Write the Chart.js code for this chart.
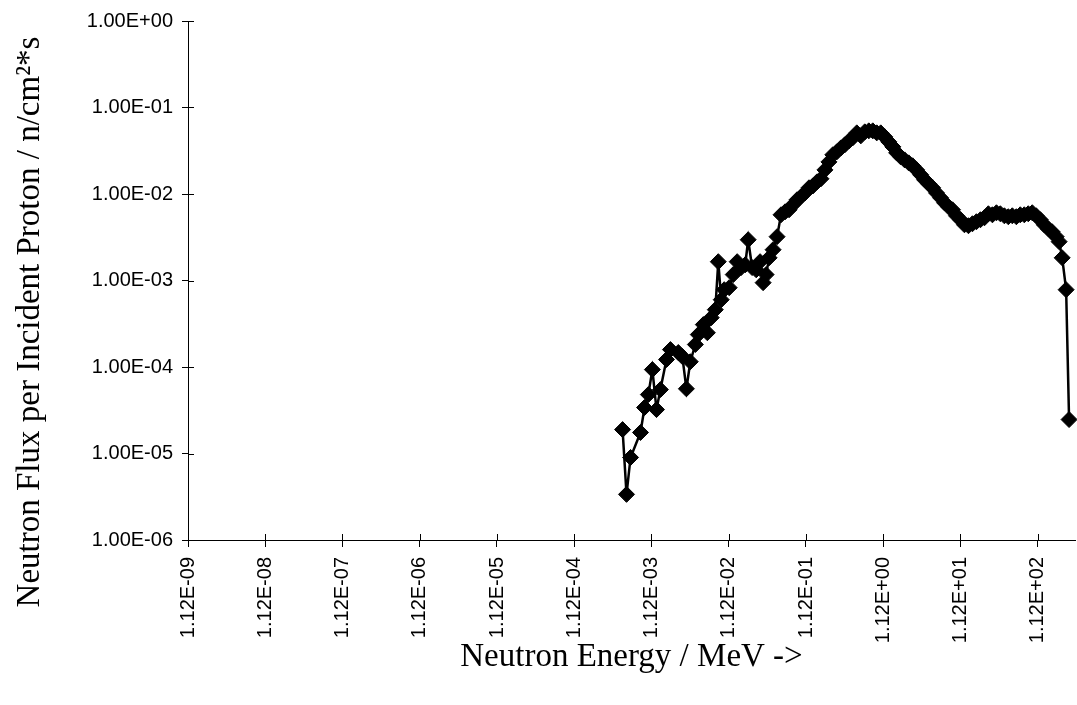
<!DOCTYPE html>
<html>
<head>
<meta charset="utf-8">
<title>Neutron Flux vs Neutron Energy</title>
<script src="https://cdn.jsdelivr.net/npm/chart.js@4.4.1/dist/chart.umd.min.js"></script>
<style>
  html, body { margin: 0; padding: 0; background: #fff; }
  #wrap { width: 1077px; height: 705px; }
</style>
</head>
<body>
<div id="wrap"><canvas id="chart" width="1077" height="705"></canvas></div>
<script>
// neutron energy (MeV)
const energyMeV = [
  4.73e-4, 5.32e-4, 6.00e-4, 8.07e-4, 9.10e-4, 1.02e-3, 1.15e-3, 1.30e-3, 1.46e-3, 1.75e-3,
  1.97e-3, 2.49e-3, 2.81e-3, 3.17e-3, 3.56e-3, 4.14e-3, 4.52e-3, 5.25e-3, 5.92e-3, 6.65e-3,
  7.50e-3, 8.20e-3, 8.95e-3, 9.79e-3, 1.135e-2, 1.28e-2, 1.44e-2, 1.62e-2, 1.83e-2, 2.00e-2,
  2.25e-2, 2.54e-2, 2.85e-2, 3.12e-2, 3.41e-2, 3.73e-2, 4.20e-2, 4.73e-2, 5.32e-2, 6.00e-2,
  6.76e-2, 7.60e-2, 8.57e-2, 9.64e-2, 0.1087, 0.1225, 0.1377, 0.1552, 0.175, 0.197,
  0.222, 0.249, 0.281, 0.317, 0.356, 0.402, 0.452, 0.509, 0.574, 0.646,
  0.728, 0.820, 0.923, 1.04, 1.17, 1.32, 1.49, 1.67, 1.88, 2.12,
  2.39, 2.69, 3.03, 3.41, 3.84, 4.33, 4.88, 5.48, 6.18, 6.97,
  7.83, 8.83, 9.93, 11.2, 12.6, 14.2, 16.0, 18.0, 20.3, 22.9,
  25.7, 29.0, 32.7, 36.7, 41.4, 46.6, 52.5, 59.2, 66.5, 75.0,
  84.4, 95.1, 107, 121, 136, 153, 172, 194, 212, 232,
  261, 285
];

// neutron flux per incident proton (n/cm^2*s)
const fluxPerProton = [
  1.89e-5, 3.37e-6, 9.0e-6, 1.75e-5, 3.40e-5, 4.80e-5, 9.33e-5, 3.22e-5, 5.48e-5, 1.22e-4,
  1.59e-4, 1.47e-4, 1.32e-4, 5.6e-5, 1.15e-4, 1.82e-4, 2.37e-4, 3.09e-4, 2.49e-4, 3.72e-4,
  4.60e-4, 1.65e-3, 6.0e-4, 7.83e-4, 8.26e-4, 1.17e-3, 1.65e-3, 1.41e-3, 1.52e-3, 2.96e-3,
  1.41e-3, 1.33e-3, 1.65e-3, 9.44e-4, 1.17e-3, 1.83e-3, 2.27e-3, 3.21e-3, 5.75e-3, 6.22e-3,
  6.57e-3, 7.50e-3, 8.57e-3, 9.29e-3, 1.03e-2, 1.18e-2, 1.24e-2, 1.38e-2, 1.50e-2, 1.90e-2,
  2.35e-2, 2.84e-2, 3.07e-2, 3.41e-2, 3.70e-2, 4.11e-2, 4.46e-2, 5.09e-2, 4.70e-2, 5.23e-2,
  5.37e-2, 5.37e-2, 5.09e-2, 5.09e-2, 4.58e-2, 4.01e-2, 3.51e-2, 2.99e-2, 2.69e-2, 2.48e-2,
  2.29e-2, 2.12e-2, 1.90e-2, 1.67e-2, 1.46e-2, 1.31e-2, 1.18e-2, 1.03e-2, 9.04e-3, 7.91e-3,
  7.11e-3, 6.57e-3, 5.60e-3, 5.04e-3, 4.41e-3, 4.30e-3, 4.53e-3, 4.78e-3, 5.04e-3, 5.31e-3,
  5.91e-3, 5.75e-3, 6.07e-3, 5.91e-3, 5.60e-3, 5.46e-3, 5.60e-3, 5.46e-3, 5.75e-3, 5.75e-3,
  5.91e-3, 6.07e-3, 5.60e-3, 5.04e-3, 4.41e-3, 3.96e-3, 3.66e-3, 3.21e-3, 2.81e-3, 1.83e-3,
  7.83e-4, 2.47e-5
];

const xTicks = [1.12e-9, 1.12e-8, 1.12e-7, 1.12e-6, 1.12e-5, 1.12e-4, 1.12e-3, 1.12e-2, 1.12e-1, 1.12e0, 1.12e1, 1.12e2];
const yTicks = [1e-6, 1e-5, 1e-4, 1e-3, 1e-2, 1e-1, 1e0];

const xTitle = 'Neutron Energy / MeV ->';
const yTitle = 'Neutron Flux per Incident Proton / n/cm²*s';

// Excel style number format, e.g. 1.12E-09
function sci(v, digits) {
  const parts = v.toExponential(digits).split('e');
  const n = parseInt(parts[1], 10);
  return parts[0] + 'E' + (n < 0 ? '-' : '+') + String(Math.abs(n)).padStart(2, '0');
}

// tick marks that cross the axes, plus the rotated y title placed a bit lower
const axisExtras = {
  id: 'axisExtras',
  afterDraw(chart) {
    const { ctx, chartArea, scales } = chart;
    ctx.save();
    ctx.strokeStyle = '#000';
    ctx.lineWidth = 1;
    ctx.beginPath();
    scales.x.ticks.forEach(t => {
      const px = Math.round(scales.x.getPixelForValue(t.value)) + 0.5;
      ctx.moveTo(px, chartArea.bottom);
      ctx.lineTo(px, chartArea.bottom - 6);
    });
    scales.y.ticks.forEach(t => {
      const py = Math.round(scales.y.getPixelForValue(t.value)) + 0.5;
      ctx.moveTo(chartArea.left, py);
      ctx.lineTo(chartArea.left + 6, py);
    });
    ctx.stroke();

    ctx.translate(30, 322);
    ctx.rotate(-Math.PI / 2);
    ctx.fillStyle = '#000';
    ctx.font = '33px "Liberation Serif", "Times New Roman", serif';
    ctx.textAlign = 'center';
    ctx.textBaseline = 'middle';
    ctx.fillText(yTitle, 0, 0);
    ctx.restore();
  }
};

new Chart(document.getElementById('chart'), {
  type: 'line',
  data: {
    datasets: [{
      label: 'Neutron flux',
      data: energyMeV.map((e, i) => ({ x: e, y: fluxPerProton[i] })),
      borderColor: '#000',
      backgroundColor: '#000',
      borderWidth: 2.5,
      pointStyle: 'rectRot',
      pointRadius: 8,
      pointBorderWidth: 1,
      pointBackgroundColor: '#000',
      pointBorderColor: '#000',
      tension: 0,
      clip: false
    }]
  },
  options: {
    responsive: false,
    animation: false,
    layout: {
      autoPadding: false,
      padding: { top: 21, right: 2, left: 0, bottom: 0 }
    },
    plugins: {
      legend: { display: false },
      tooltip: { enabled: false }
    },
    scales: {
      x: {
        type: 'logarithmic',
        min: 1.12e-9,
        max: 3.4e2,
        afterBuildTicks: (axis) => { axis.ticks = xTicks.map(v => ({ value: v })); },
        afterFit: (axis) => {
          axis.height = 165;
          axis.paddingRight = 0;
          axis.paddingLeft = 0;
        },
        border: { display: true, color: '#000', width: 1 },
        grid: { display: true, drawOnChartArea: false, color: '#000', tickLength: 7 },
        ticks: {
          autoSkip: false,
          maxRotation: 90,
          minRotation: 90,
          padding: 10,
          color: '#000',
          font: { family: '"Liberation Sans", Arial, sans-serif', size: 20 },
          callback: (v) => sci(v, 2)
        },
        title: {
          display: true,
          text: xTitle,
          color: '#000',
          padding: { top: 4, bottom: 28 },
          font: { family: '"Liberation Serif", "Times New Roman", serif', size: 33 }
        }
      },
      y: {
        type: 'logarithmic',
        min: 1e-6,
        max: 1,
        afterBuildTicks: (axis) => { axis.ticks = yTicks.map(v => ({ value: v })); },
        afterFit: (axis) => { axis.width = 188; },
        border: { display: true, color: '#000', width: 1 },
        grid: { display: true, drawOnChartArea: false, color: '#000', tickLength: 6 },
        ticks: {
          padding: 9,
          color: '#000',
          font: { family: '"Liberation Sans", Arial, sans-serif', size: 20 },
          callback: (v) => sci(v, 2)
        }
      }
    }
  },
  plugins: [axisExtras]
});
</script>
</body>
</html>
